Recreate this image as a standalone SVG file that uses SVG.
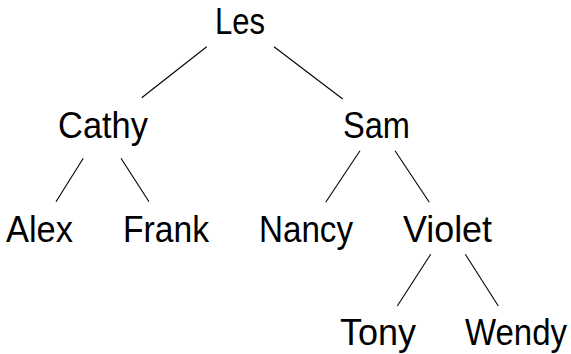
<svg xmlns="http://www.w3.org/2000/svg" width="571" height="354" viewBox="0 0 571 354">
<style>
.lbl{font-family:"Liberation Sans","DejaVu Sans",sans-serif;font-size:37px;fill:#000;}
.edge{stroke:#000;stroke-width:1.1;fill:none;}
</style>
<rect width="571" height="354" fill="#fff"/>
<g id="connectors">
<line class="edge" x1="206.7" y1="46.7" x2="141.7" y2="97.7"/>
<line class="edge" x1="274" y1="46.7" x2="342.7" y2="99"/>
<line class="edge" x1="83.3" y1="158.3" x2="56" y2="201.7"/>
<line class="edge" x1="121" y1="158.3" x2="149" y2="201.7"/>
<line class="edge" x1="360" y1="150.7" x2="325.7" y2="202.3"/>
<line class="edge" x1="395" y1="150.7" x2="429.3" y2="202.3"/>
<line class="edge" x1="430.7" y1="254.3" x2="397.3" y2="306"/>
<line class="edge" x1="465.3" y1="254.3" x2="498.3" y2="306"/>
</g>
<g id="node-les"><text class="lbl" x="215" y="34" textLength="50" lengthAdjust="spacingAndGlyphs">Les</text></g>
<g id="node-cathy"><text class="lbl" x="58" y="138.3" textLength="90" lengthAdjust="spacingAndGlyphs">Cathy</text></g>
<g id="node-sam"><text class="lbl" x="343" y="138.3" textLength="67" lengthAdjust="spacingAndGlyphs">Sam</text></g>
<g id="node-alex"><text class="lbl" x="6" y="241.7" textLength="67" lengthAdjust="spacingAndGlyphs">Alex</text></g>
<g id="node-frank"><text class="lbl" x="123" y="241.7" textLength="86" lengthAdjust="spacingAndGlyphs">Frank</text></g>
<g id="node-nancy"><text class="lbl" x="259" y="241.7" textLength="94" lengthAdjust="spacingAndGlyphs">Nancy</text></g>
<g id="node-violet"><text class="lbl" x="403" y="241.7" textLength="89" lengthAdjust="spacingAndGlyphs">Violet</text></g>
<g id="node-tony"><text class="lbl" x="340" y="345" textLength="76" lengthAdjust="spacingAndGlyphs">Tony</text></g>
<g id="node-wendy"><text class="lbl" x="465" y="345" textLength="102" lengthAdjust="spacingAndGlyphs">Wendy</text></g>
</svg>
